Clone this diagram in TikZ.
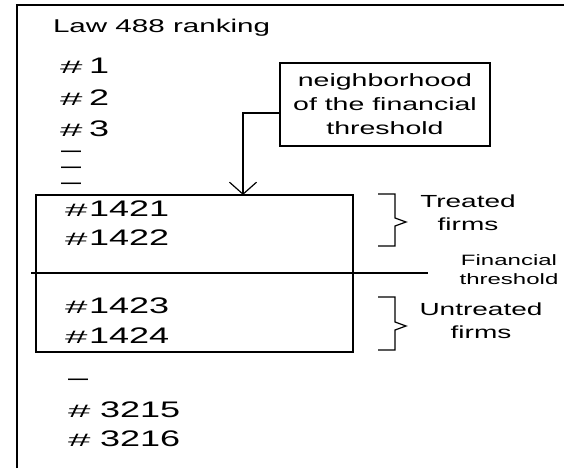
\documentclass[tikz,border=0pt]{standalone}
\usepackage{fontspec}
\usepackage{graphicx}
\usetikzlibrary{arrows.meta}
\setmainfont{Liberation Sans}
\newfontfamily\wf[FakeStretch=1.6]{Liberation Sans}
\newcommand\hs{{\fontsize{18}{18}\selectfont\scalebox{1.4}[1]{\#}}}
\begin{document}
\begin{tikzpicture}[x=1pt,y=-1pt,
  line width=1.2pt,
  base/.style={inner sep=0pt, outer sep=0pt, anchor=base west},
  num/.style={base, font=\wf\fontsize{22.5}{22.5}\selectfont},
  title/.style={base, font=\wf\fontsize{18.5}{18.5}\selectfont},
  lbl/.style={inner sep=0pt, outer sep=0pt, anchor=north, align=center, font=\wf\fontsize{17.5}{23}\selectfont},
  small/.style={inner sep=0pt, outer sep=0pt, anchor=north, align=center, font=\wf\fontsize{15}{19}\selectfont},
  boxed/.style={draw, line width=1.2pt, inner sep=0pt},
  conn/.style={line width=1.2pt, -{Straight Barb[length=12pt,width=27pt,line width=1.2pt]}}]
\useasboundingbox (0,0) rectangle (564,468);
\fill[white] (0,0) rectangle (564,468);
% frame
\coordinate (fl) at (17,5);
\coordinate (fb) at (17,468);
\coordinate (fr) at (564,5);
\draw[line width=2.2pt] (fb) -- (fl);
\draw[line width=1.2pt] ([xshift=-1.1pt]fl) -- (fr);
% title
\node[title] (ttl) at (53,33) {Law 488 ranking};
% top list
\node[num] (h1) at (60,74) {\hs};
\node[num] (n1) at (89,74) {1};
\node[num] (h2) at (60,106) {\hs};
\node[num] (n2) at (89,106) {2};
\node[num] (h3) at (60,136) {\hs};
\node[num] (n3) at (89,136) {3};
\node[num] (d1) at (61,157) {–};
\node[num] (d2) at (61,173) {–};
\node[num] (d3) at (61,189) {–};
% neighborhood box
\node[boxed, minimum width=210pt, minimum height=83pt, align=center,
      font=\wf\fontsize{17.8}{24}\selectfont] (nb) at (385,104.5)
      {neighborhood\\of the financial\\threshold};
% main rectangle
\node[boxed, minimum width=317pt, minimum height=157pt] (rect) at (194.5,273.5) {};
\coordinate (src) at (280,113);
\coordinate (tip) at (243,195);
\draw[conn] (src) -| (tip);
% middle list
\node[num] (h1421) at (65,216) {\hs};
\node[num] (n1421) at (89,216) {1421};
\node[num] (h1422) at (65,245) {\hs};
\node[num] (n1422) at (89,245) {1422};
\node[num] (h1423) at (65,313) {\hs};
\node[num] (n1423) at (89,313) {1423};
\node[num] (h1424) at (65,343) {\hs};
\node[num] (n1424) at (89,343) {1424};
% threshold line
\coordinate (thl) at (31,273);
\coordinate (thr) at (428,273);
\draw (thl) -- (thr);
% brackets
\coordinate (b1t) at (378,194);
\coordinate (b1b) at (378,246);
\coordinate (b1p) at (406,222);
\draw (b1t) -- (395,194) -- (395,218) -- (b1p) -- (395,226) -- (395,246) -- (b1b);
\coordinate (b2t) at (378,297);
\coordinate (b2b) at (378,350);
\coordinate (b2p) at (406,326);
\draw (b2t) -- (395,297) -- (395,322) -- (b2p) -- (395,330) -- (395,350) -- (b2b);
% labels
\node[lbl] (tr) at (468,195) {Treated\\firms};
\node[small] (ft) at (509,255) {Financial\\threshold};
\node[lbl] (ut) at (481,303) {Untreated\\firms};
% bottom list
\node[num] (d4) at (68,385) {–};
\node[num] (h3215) at (68,417) {\hs};
\node[num] (n3215) at (100,417) {3215};
\node[num] (h3216) at (68,446) {\hs};
\node[num] (n3216) at (100,446) {3216};
\end{tikzpicture}
\end{document}
